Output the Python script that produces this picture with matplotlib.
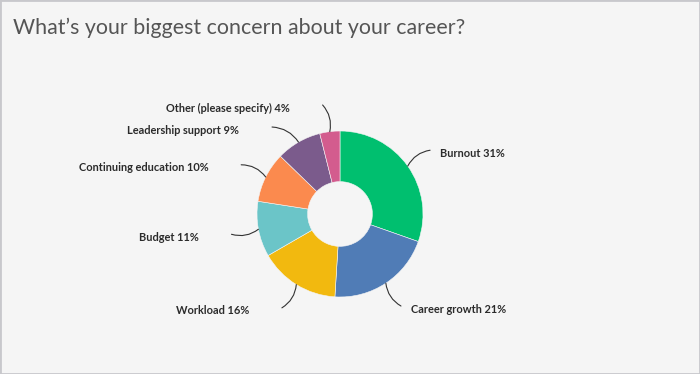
import numpy as np
import matplotlib.pyplot as plt
from matplotlib.patches import Rectangle

# ── Data ──────────────────────────────────────────────────────────────────────
categories = ["Burnout", "Career growth", "Workload", "Budget",
              "Continuing education", "Leadership support",
              "Other (please specify)"]
percents = [31, 21, 16, 11, 10, 9, 4]
colors = ["#00bf6f", "#507cb6", "#f2b90f", "#6bc5c8",
          "#fb8a4e", "#7b5b8c", "#d35c8e"]

TITLE = "What\u2019s your biggest concern about your career?"

# ── Figure ────────────────────────────────────────────────────────────────────
W, H = 700, 374
fig = plt.figure(figsize=(W / 100, H / 100), dpi=100, facecolor="#f5f5f5")
ax = fig.add_axes([0, 0, 1, 1])
ax.set_facecolor("#f5f5f5")
ax.axis("off")

cx, cy, R = 340, 160, 83
wedges, _ = ax.pie(percents, colors=colors, startangle=90, counterclock=False,
                   center=(cx, cy), radius=R,
                   wedgeprops=dict(width=R * 0.61, edgecolor="#f5f5f5", linewidth=0.4))
ax.set_xlim(0, W)
ax.set_ylim(0, H)

# small angular nudge (deg) for the label end so neighbours don't collide
nudge = [0, 0, 0, 0, 0, 8, 2]

# leader lines: wedge edge -> 1.33 R along the mid angle, text beyond
for w, name, pct, dn in zip(wedges, categories, percents, nudge):
    mid = (w.theta1 + w.theta2) / 2
    ang = np.deg2rad(mid)
    ca, sa = np.cos(ang), np.sin(ang)
    x0, y0 = cx + R * ca, cy + R * sa
    ang1 = np.deg2rad(mid + dn)
    x1, y1 = cx + 1.33 * R * np.cos(ang1), cy + 1.33 * R * np.sin(ang1)
    right = ca >= 0
    rad = 0.25 if right else -0.25
    if sa < 0:
        rad = -rad
    ax.annotate("", xy=(x0, y0), xytext=(x1, y1),
                arrowprops=dict(arrowstyle="-", color="#333333", lw=0.8,
                                shrinkA=0, shrinkB=0,
                                connectionstyle=f"arc3,rad={rad}"),
                annotation_clip=False)
    tx = x1 + (10 if right else -33)
    ax.text(tx, y1 - 3, f"{name} {pct}%",
            ha="left" if right else "right", va="center",
            fontsize=7.9, fontweight="bold", color="#2b2b2b", family="Lato")

fig.text(13 / W, 1 - 28 / H, TITLE, ha="left", va="center",
         fontsize=15.4, color="#555555", family="Lato")

fig.patches.append(Rectangle((0, 0), 1, 1, transform=fig.transFigure,
                             fill=False, edgecolor="#c8c8cc", lw=2))

fig.savefig("out.png", dpi=100, facecolor=fig.get_facecolor())
